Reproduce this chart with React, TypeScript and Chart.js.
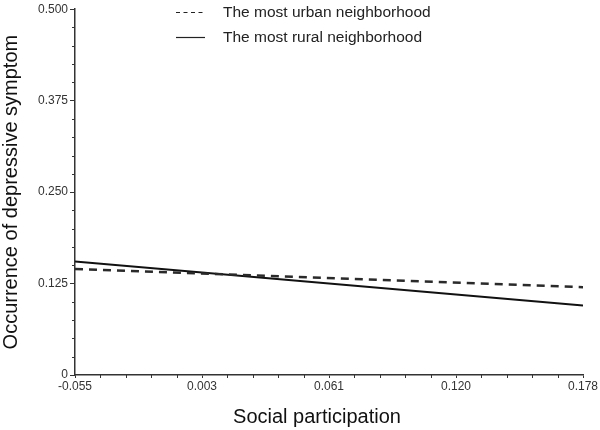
import React, { useEffect, useRef } from "react";
import { Chart, registerables } from "chart.js";

Chart.register(...registerables);

const xValues = [-0.055, 0.178];
const urbanValues = [0.145, 0.12];
const ruralValues = [0.155, 0.095];
const xTickLabels = ["-0.055", "0.003", "0.061", "0.120", "0.178"];
const yTickLabels = ["0", "0.125", "0.250", "0.375", "0.500"];
const seriesNames = ["The most urban neighborhood", "The most rural neighborhood"];
const xTitle = "Social participation";
const yTitle = "Occurrence of depressive symptom";

const FONT = "'Liberation Sans', Arial, sans-serif";
const X_MIN = xValues[0];
const X_MAX = xValues[xValues.length - 1];
const Y_MIN = 0;
const Y_MAX = 0.5;
const X_STEP = (X_MAX - X_MIN) / (xTickLabels.length - 1);
const Y_STEP = (Y_MAX - Y_MIN) / (yTickLabels.length - 1);
const MINOR_DIV = 5;

const minorTicksPlugin = {
  id: "minorTicks",
  afterDraw(chart: any) {
    const { ctx } = chart;
    const x = chart.scales.x;
    const y = chart.scales.y;
    ctx.save();
    ctx.strokeStyle = "#333";
    ctx.lineWidth = 1;
    ctx.beginPath();
    for (let i = 0; i < (yTickLabels.length - 1) * MINOR_DIV; i++) {
      if (i % MINOR_DIV === 0) continue;
      const v = Y_MIN + (i * Y_STEP) / MINOR_DIV;
      const py = Math.round(y.getPixelForValue(v)) + 0.5;
      ctx.moveTo(x.left - 3, py);
      ctx.lineTo(x.left, py);
    }
    for (let i = 0; i < (xTickLabels.length - 1) * MINOR_DIV; i++) {
      if (i % MINOR_DIV === 0) continue;
      const v = X_MIN + (i * X_STEP) / MINOR_DIV;
      const px = Math.round(x.getPixelForValue(v)) + 0.5;
      ctx.moveTo(px, y.bottom);
      ctx.lineTo(px, y.bottom + 3);
    }
    ctx.stroke();

    // x axis title (slightly left of plot centre, as in the reference)
    ctx.fillStyle = "#111";
    ctx.font = `20px ${FONT}`;
    ctx.textAlign = "center";
    ctx.textBaseline = "middle";
    ctx.fillText(xTitle, (x.left + x.right) / 2 - 12, 417);
    ctx.restore();
  },
};

const legendPlugin = {
  id: "customLegend",
  afterDraw(chart: any) {
    const { ctx } = chart;
    const rows = [
      { y: 12, dash: [4, 3.5] },
      { y: 37, dash: [] as number[] },
    ];
    ctx.save();
    chart.data.datasets.forEach((ds: any, i: number) => {
      const r = rows[i];
      ctx.beginPath();
      ctx.setLineDash(r.dash);
      ctx.strokeStyle = "#222";
      ctx.lineWidth = 1.2;
      ctx.moveTo(176, r.y + 0.5);
      ctx.lineTo(205, r.y + 0.5);
      ctx.stroke();
      ctx.setLineDash([]);
      ctx.fillStyle = "#222";
      ctx.font = `15.5px ${FONT}`;
      ctx.textBaseline = "middle";
      ctx.textAlign = "left";
      ctx.fillText(ds.label, 223, r.y + 1);
    });
    ctx.restore();
  },
};

export default function App() {
  const canvasRef = useRef<HTMLCanvasElement | null>(null);

  useEffect(() => {
    if (!canvasRef.current) return;
    const chart = new Chart(canvasRef.current, {
      type: "scatter",
      data: {
        datasets: [
          {
            label: seriesNames[0],
            data: xValues.map((x, i) => ({ x, y: urbanValues[i] })),
            showLine: true,
            borderColor: "#2a2a2a",
            borderWidth: 2.5,
            borderDash: [8, 6],
            pointRadius: 0,
            fill: false,
          },
          {
            label: seriesNames[1],
            data: xValues.map((x, i) => ({ x, y: ruralValues[i] })),
            showLine: true,
            borderColor: "#111",
            borderWidth: 2,
            pointRadius: 0,
            fill: false,
          },
        ],
      },
      options: {
        animation: false,
        responsive: false,
        layout: { padding: { top: 6, right: 17, left: 0, bottom: 0 } },
        plugins: {
          legend: { display: false },
          tooltip: { enabled: false },
        },
        scales: {
          x: {
            type: "linear",
            min: X_MIN,
            max: X_MAX,
            afterBuildTicks: (scale: any) => {
              scale.ticks = xTickLabels.map((_, i) => ({ value: X_MIN + i * X_STEP }));
            },
            afterFit: (scale: any) => {
              scale.height = 55;
            },
            ticks: {
              autoSkip: false,
              maxRotation: 0,
              padding: 1,
              color: "#333",
              font: { family: FONT, size: 12 },
              callback: (_v: any, i: number) => xTickLabels[i],
            },
            grid: {
              display: true,
              drawOnChartArea: false,
              drawTicks: true,
              tickLength: 3,
              color: "#333",
            },
            border: { display: true, color: "#333", width: 1.5 },
            title: { display: false },
          },
          y: {
            type: "linear",
            min: Y_MIN,
            max: Y_MAX,
            afterBuildTicks: (scale: any) => {
              scale.ticks = yTickLabels.map((_, i) => ({ value: Y_MIN + i * Y_STEP }));
            },
            afterFit: (scale: any) => {
              scale.width = 75;
            },
            ticks: {
              autoSkip: false,
              padding: 2,
              color: "#333",
              font: { family: FONT, size: 12 },
              callback: (_v: any, i: number) => yTickLabels[i],
            },
            grid: {
              display: true,
              drawOnChartArea: false,
              drawTicks: true,
              tickLength: 5,
              color: "#333",
            },
            border: { display: true, color: "#333", width: 1.5 },
            title: {
              display: true,
              text: yTitle,
              color: "#111",
              font: { family: FONT, size: 20, lineHeight: 1.1 },
              padding: { top: 0, bottom: 0 },
            },
          },
        },
      },
      plugins: [minorTicksPlugin, legendPlugin],
    } as any);
    return () => chart.destroy();
  }, []);

  return (
    <div style={{ position: "absolute", left: 0, top: 0, width: 600, height: 430, background: "#fff" }}>
      <canvas ref={canvasRef} width={600} height={430} style={{ display: "block" }} />
    </div>
  );
}
